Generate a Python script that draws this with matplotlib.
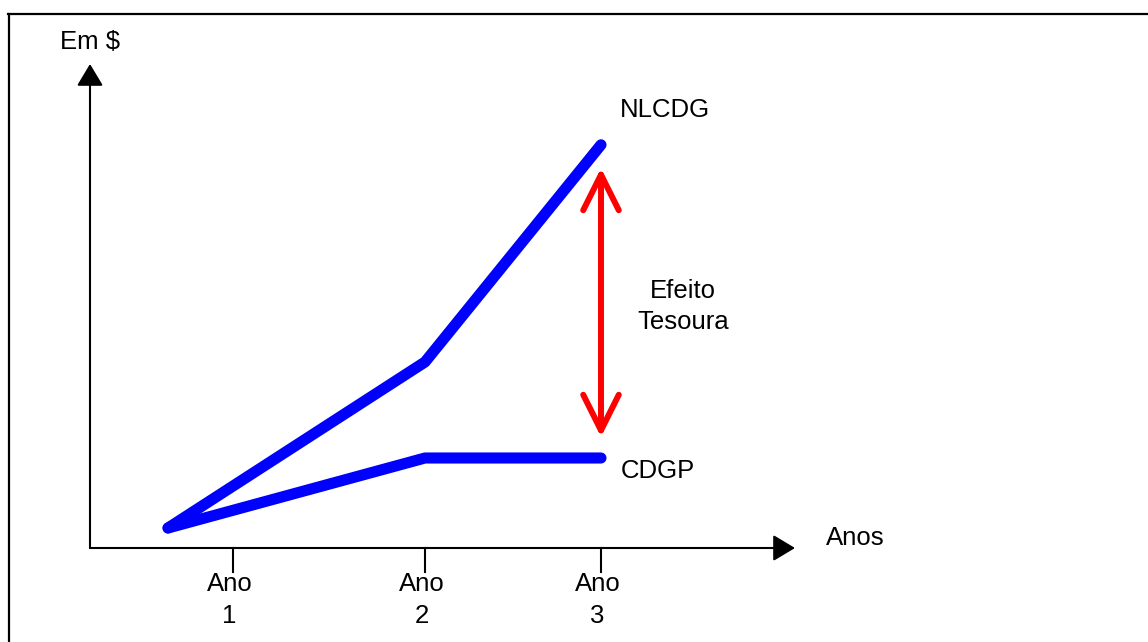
import matplotlib
matplotlib.use("Agg")
import matplotlib.pyplot as plt
from matplotlib.lines import Line2D

plt.rcParams['font.family'] = ['Liberation Sans', 'DejaVu Sans']

# data (arbitrary units)
x_pts = [0.54, 2.0, 3.0]
nlcdg = [0.5, 4.65, 10.08]
cdgp = [0.5, 2.25, 2.25]
tick_pos = [0.91, 2.0, 3.0]
tick_labels = ['Ano\n1', 'Ano\n2', 'Ano\n3']
scissor_top = 9.5
scissor_bottom = 2.775

W, H = 1148, 642
fig = plt.figure(figsize=(W / 100, H / 100), dpi=100)
ax = fig.add_axes([0, 0, 1, 1])
ax.axis('off')

# map so that x=2 -> px 425, x=3 -> px 601 ; y=0 -> px 548, 40 px per unit
ax.set_xlim((0 - 73) / 176, (W - 73) / 176)
ax.set_ylim((548 - H) / 40, 548 / 40)

# frame around the picture (only left and top visible)
fig.add_artist(Line2D([9 / W, 9 / W], [0, 1 - 14 / H], color='black', lw=1.6))
fig.add_artist(Line2D([8 / W, 1], [1 - 14 / H, 1 - 14 / H], color='black', lw=1.6))

# axes with arrows
x0 = (90 - 73) / 176
head = '-|>,head_length=0.5,head_width=0.3'
ax.annotate('', xy=(x0, (548 - 64) / 40), xytext=(x0, 0),
            arrowprops=dict(arrowstyle=head, mutation_scale=27, lw=1.5,
                            color='black', shrinkA=0, shrinkB=0))
ax.annotate('', xy=((795 - 73) / 176, 0), xytext=(x0, 0),
            arrowprops=dict(arrowstyle=head, mutation_scale=27, lw=1.5,
                            color='black', shrinkA=0, shrinkB=0))

for p, lab in zip(tick_pos, tick_labels):
    ax.plot([p, p], [0, -0.6], color='black', lw=1.5)
    ax.text(p - 0.02, -1.3, lab, ha='center', va='center', fontsize=18.5,
            linespacing=1.4)

# series
ax.plot(x_pts, nlcdg, color='#0000ff', lw=8, solid_capstyle='round',
        solid_joinstyle='round')
ax.plot(x_pts, cdgp, color='#0000ff', lw=8, solid_capstyle='round',
        solid_joinstyle='round')

# scissor effect arrow
ax.annotate('', xy=(x_pts[-1], scissor_top), xytext=(x_pts[-1], scissor_bottom),
            arrowprops=dict(arrowstyle='<->,head_length=1.28,head_width=0.64',
                            mutation_scale=20, lw=4.3, color='#ff0000',
                            shrinkA=0, shrinkB=0, capstyle='round',
                            joinstyle='round'))

# labels
ax.annotate('NLCDG', xy=(x_pts[-1], nlcdg[-1]), xytext=(46, 25),
            textcoords='offset points', ha='center', va='center', fontsize=18.5)
ax.annotate('CDGP', xy=(x_pts[-1], cdgp[-1]), xytext=(41, -9),
            textcoords='offset points', ha='center', va='center', fontsize=18.5)
ax.annotate('Efeito\nTesoura', xy=(x_pts[-1], (scissor_top + scissor_bottom) / 2),
            xytext=(59, -3), textcoords='offset points', ha='center',
            va='center', fontsize=18.5, linespacing=1.4)
ax.text(x0 + 0.0, (548 - 42) / 40, 'Em $', ha='center', va='center', fontsize=18.5)
ax.text((855 - 73) / 176, (548 - 538) / 40, 'Anos', ha='center', va='center',
        fontsize=18.5)

fig.savefig('out.png', dpi=100)
